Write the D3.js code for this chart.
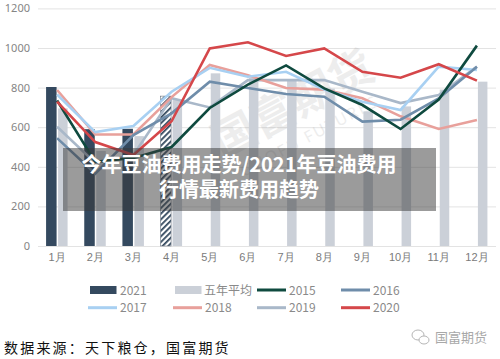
<!DOCTYPE html>
<html><head><meta charset="utf-8">
<script src="https://cdn.jsdelivr.net/npm/d3@7"></script>
<style>
html,body{margin:0;padding:0;background:#fff;}
svg{display:block;font-family:"Noto Sans CJK SC","Noto Sans",sans-serif;}
</style></head>
<body>
<svg id="c" width="500" height="359"></svg>
<script>
const months = ['1月','2月','3月','4月','5月','6月','7月','8月','9月','10月','11月','12月'];
const s2021 = [803, 590, 592, 757];
const avg5  = [695, 480, 555, 737, 872, 850, 838, 795, 680, 705, 790, 830];
const s2015 = [735, 425, 445, 500, 697, 815, 912, 796, 712, 591, 740, 1012];
const s2016 = [545, 365, 560, 670, 830, 798, 768, 754, 628, 638, 745, 905];
const s2017 = [765, 575, 606, 779, 900, 855, 880, 790, 729, 687, 906, 889];
const s2018 = [788, 563, 563, 752, 914, 862, 798, 790, 746, 655, 591, 636];
const s2019 = [602, 420, 460, 746, 700, 838, 838, 838, 779, 722, 762, 906];
const s2020 = [729, 525, 460, 630, 998, 1029, 960, 998, 880, 850, 918, 835];
const yTicks = [0, 200, 400, 600, 800, 1000, 1200];
const legendLabels = ['2021','五年平均','2015','2016','2017','2018','2019','2020'];
const titleLines = ['今年豆油费用走势/2021年豆油费用','行情最新费用趋势'];
const sourceText = '数据来源：天下粮仓，国富期货';

const C = {
  c2021:'#34495f', avg:'#cbd0d8', c2015:'#0f4a3f', c2016:'#6f8daa',
  c2017:'#a8d0f2', c2018:'#e8a09b', c2019:'#a9b8c9', c2020:'#d5474a'
};

const svg = d3.select('#c');
const x = d3.scaleBand().domain(months).range([38, 496]).padding(0);
const y = d3.scaleLinear().domain([0, 1200]).range([246, 8.4]);
const cx = m => x(m) + x.bandwidth()/2;

// hatch pattern
const defs = svg.append('defs');
const pat = defs.append('pattern').attr('id','hatch').attr('patternUnits','userSpaceOnUse')
  .attr('width',4).attr('height',4).attr('patternTransform','rotate(45)');
pat.append('rect').attr('width',4).attr('height',4).attr('fill','#fff');
pat.append('rect').attr('width',1.8).attr('height',4).attr('fill',C.c2021);

// y axis + grid
const ya = svg.append('g').attr('transform','translate(38,0)')
  .call(d3.axisLeft(y).tickValues(yTicks).tickFormat(d3.format('d')).tickSize(-458).tickPadding(8));
ya.select('.domain').remove();
ya.selectAll('.tick line').attr('stroke','#e3e3e3').attr('stroke-width',1);
ya.selectAll('.tick text').attr('fill','#858585').style('font-size','11px').style('font-family','"Noto Sans","Open Sans",sans-serif');

// x axis
const xa = svg.append('g').attr('transform','translate(0,246)')
  .call(d3.axisBottom(x).tickSize(0).tickPadding(7));
xa.select('.domain').remove();
xa.selectAll('.tick text').attr('fill','#7a7a7a').style('font-size','11px');

// watermark
const wm = svg.append('g').attr('transform','translate(300,118) rotate(-28)').attr('opacity',0.1);
wm.append('text').attr('text-anchor','middle').attr('font-size',44).attr('font-weight',700)
  .attr('fill','#555').text('国富期货');
wm.append('text').attr('text-anchor','middle').attr('y',26).attr('font-size',16)
  .attr('font-family','"Noto Sans",sans-serif').attr('fill','#555').attr('letter-spacing',2).text('GUOFU FUTURES');

// five-year avg bars
svg.append('g').selectAll('rect').data(avg5).join('rect')
  .attr('x',(d,i)=>cx(months[i])+1).attr('width',9.5)
  .attr('y',d=>y(d)).attr('height',d=>y(0)-y(d)).attr('fill',C.avg);

// 2021 bars
svg.append('g').selectAll('rect').data(s2021).join('rect')
  .attr('x',(d,i)=>cx(months[i])-11).attr('width',10.5)
  .attr('y',d=>y(d)).attr('height',d=>y(0)-y(d))
  .attr('fill',(d,i)=> i===3 ? 'url(#hatch)' : C.c2021)
  .attr('stroke',(d,i)=> i===3 ? '#6b7480' : 'none').attr('stroke-width',0.6);

// lines
const series = [
  {v:s2019,c:C.c2019},{v:s2018,c:C.c2018},{v:s2017,c:C.c2017},
  {v:s2016,c:C.c2016},{v:s2015,c:C.c2015},{v:s2020,c:C.c2020}
];
const line = d3.line().x((d,i)=>cx(months[i])).y(d=>y(d));
svg.append('g').selectAll('path').data(series).join('path')
  .attr('d',d=>line(d.v)).attr('fill','none').attr('stroke',d=>d.c)
  .attr('stroke-width',2.6).attr('stroke-linejoin','miter');

// overlay title box
svg.append('rect').attr('x',63).attr('y',148).attr('width',373).attr('height',63)
  .attr('fill','rgba(55,55,55,0.5)');
svg.append('g').selectAll('text').data(titleLines).join('text')
  .attr('x',239).attr('y',(d,i)=>172+i*25).attr('text-anchor','middle')
  .attr('fill','#fff').attr('font-size',20).attr('font-weight',700).text(d=>d);

// legend
const legCols = [88, 173, 257, 341];
const leg = svg.append('g');
legendLabels.forEach((lab,i)=>{
  const col = i%4, row = Math.floor(i/4);
  const lx = legCols[col], ly = 290 + row*17.7;
  const colr = [C.c2021,C.avg,C.c2015,C.c2016,C.c2017,C.c2018,C.c2019,C.c2020][i];
  if(i<2){
    leg.append('rect').attr('x',lx+2).attr('y',ly-4).attr('width',26.5).attr('height',8).attr('fill',colr);
  } else {
    leg.append('line').attr('x1',lx).attr('x2',lx+29).attr('y1',ly).attr('y2',ly)
      .attr('stroke',colr).attr('stroke-width',3);
  }
  leg.append('text').attr('x', i===1 ? lx+31 : lx+32).attr('y',ly+4.5)
    .attr('fill','#8a8a8a').attr('font-size', 12).text(lab);
});

// source
svg.append('text').attr('x',4).attr('y',353).attr('font-size',14).attr('letter-spacing',2.2)
  .attr('fill','#111').text(sourceText);

// wechat mark
const wc = svg.append('g').attr('transform','translate(420,337)').attr('fill','none').attr('stroke','#b5b5b5').attr('stroke-width',1);
wc.append('ellipse').attr('cx',-2).attr('cy',-2).attr('rx',6).attr('ry',5);
wc.append('ellipse').attr('cx',4).attr('cy',3).attr('rx',5).attr('ry',4).attr('fill','#fff');
svg.append('text').attr('x',435).attr('y',342).attr('font-size',13).attr('fill','#a8a8a8').text('国富期货');
</script>
</body></html>
